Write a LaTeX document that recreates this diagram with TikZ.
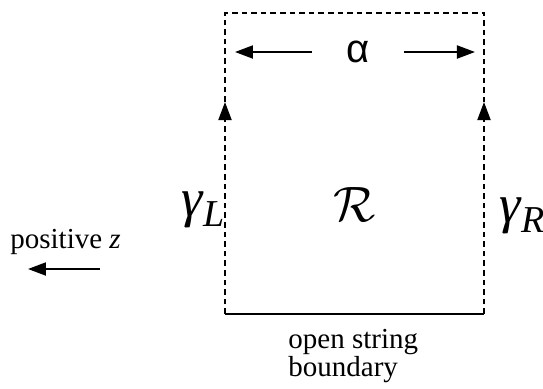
\documentclass[tikz,border=0pt]{standalone}
\usepackage{fontspec}
\setmainfont{Liberation Serif}
\newfontfamily\greekfont{Liberation Sans}
\usetikzlibrary{arrows.meta,positioning}

\newcommand{\edgename}[1]{%
  {\fontsize{27}{27}\selectfont\itshape γ}%
  \raisebox{-0.35em}{\fontsize{19}{19}\selectfont\itshape #1}}

\begin{document}
\begin{tikzpicture}[
    x=0.5pt, y=0.5pt,
    font=\fontsize{14.5}{13}\selectfont,
    side/.style={
        line width=1.2pt,
        dash pattern=on 2.8pt off 2pt
    },
    flow/.style={
        -{Triangle[length=9pt,width=6.5pt]},
        line width=1pt
    },
    tag/.style={
        inner sep=0pt
    }
]
    \useasboundingbox (0,0) rectangle (543,388);

    % corners of the strip
    \coordinate (bl) at (225,74);
    \coordinate (br) at (484,74);
    \coordinate (tl) at (225,375);
    \coordinate (tr) at (484,375);
    \coordinate (lmid) at (225,286);
    \coordinate (rmid) at (484,286);

    \draw[side, flow] (bl) -- (lmid);
    \draw[side] (lmid) -- (tl) -- (tr) -- (rmid);
    \draw[side, flow] (br) -- (rmid);
    \draw[line width=1pt] (bl) -- (br);

    \node[tag, minimum width=45.5pt] (alpha) at (358,336)
        {\greekfont\fontsize{20}{20}\selectfont α};
    \draw[flow, shorten >=5pt] (alpha.west) -- (lmid |- alpha);
    \draw[flow, shorten >=4.5pt] (alpha.east) -- (rmid |- alpha);

    \node[tag] (region) at (355,184)
        {\fontsize{27}{27}\selectfont$\mathcal{R}$};
    \node[tag] (gammaL) at (203,178) {\edgename{L}};
    \node[tag] (gammaR) at (522,172) {\edgename{R}};

    \node[tag, anchor=north west, align=left] (open) at (288,59)
        {open string\\boundary};

    \node[tag, anchor=base west] (posz) at (10,140) {positive \textit{z}};
    \coordinate (ztail) at (100,119);
    \coordinate (ztip) at (28,119);
    \draw[flow] (ztail) -- (ztip);
\end{tikzpicture}
\end{document}
